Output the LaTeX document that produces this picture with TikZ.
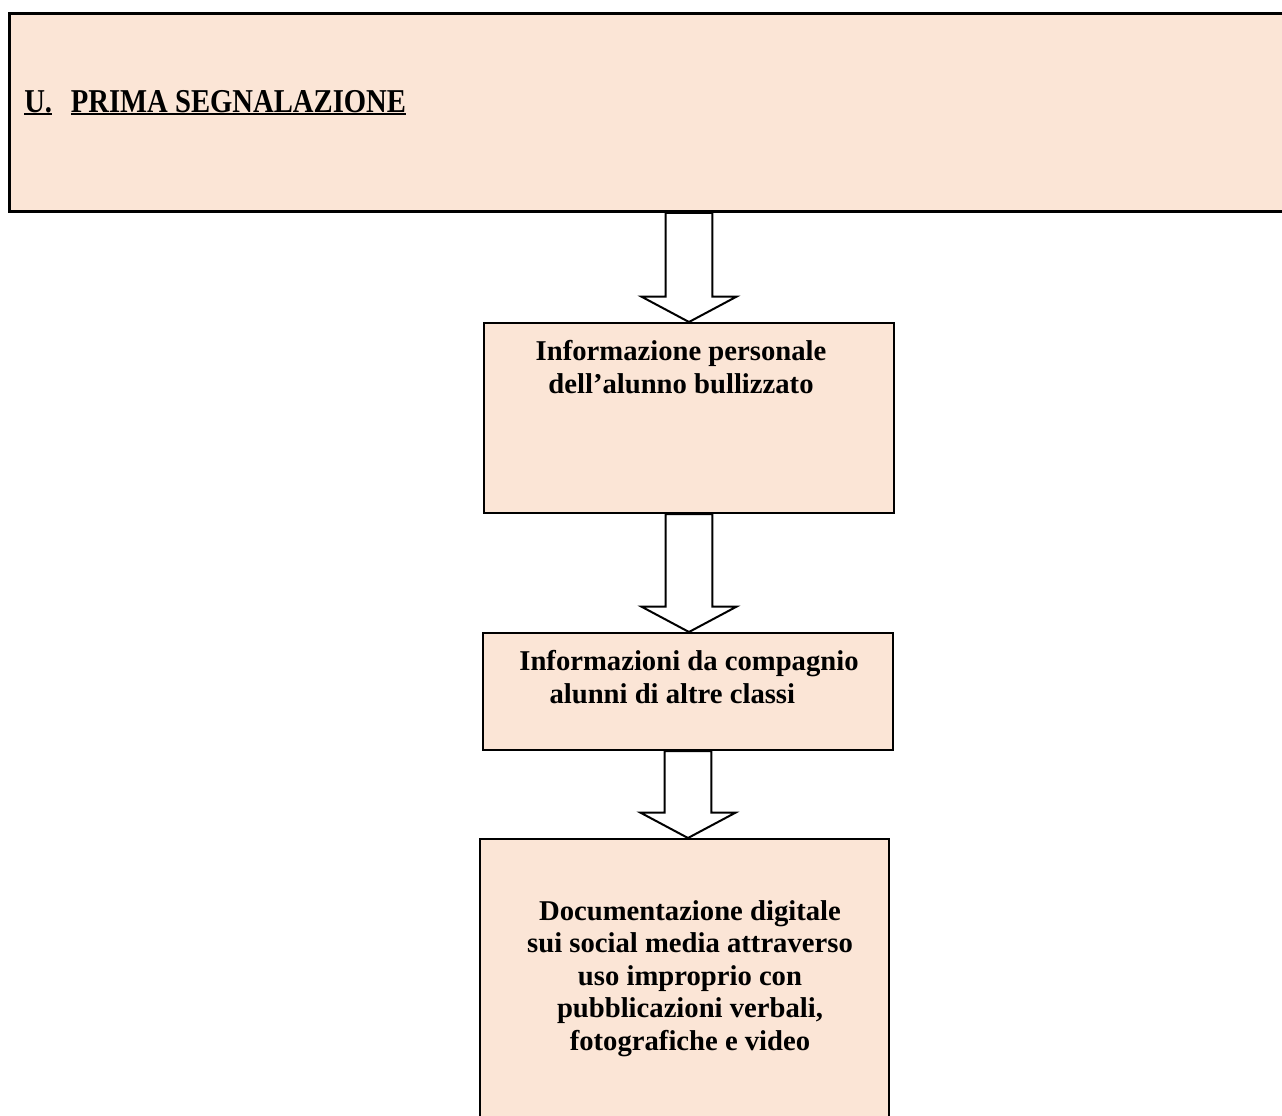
\documentclass[tikz,border=0pt]{standalone}
\usepackage{fontspec}
\setmainfont{Liberation Serif}
\newfontfamily\titlefont[FakeStretch=0.86]{Liberation Serif}
\usepackage{tikz}
\usetikzlibrary{calc,positioning}
\definecolor{boxpeach}{HTML}{FBE5D6}

\newcommand{\titleul}[1]{\setbox0\hbox{#1}\rlap{\rule[-2.6pt]{\wd0}{1.5pt}}\box0}
% block arrow from a point on the upper box to the tip on the lower box
\newcommand{\blockarrow}[2]{%
  \draw[blockarr] let \p1=(#1), \p2=(#2) in
    (\x2-17.6pt,\y1) -- (\x2+17.6pt,\y1) -- (\x2+17.6pt,\y2+19pt)
    -- (\x2+35.6pt,\y2+19pt) -- (\x2,\y2) -- (\x2-35.6pt,\y2+19pt)
    -- (\x2-17.6pt,\y2+19pt) -- cycle;}

\begin{document}
\begin{tikzpicture}[x=0.75pt,y=-0.75pt,
every node/.style={font=\fontsize{21.5}{24.3}\selectfont\bfseries},
stepbox/.style={draw=black,line width=1.5pt,fill=boxpeach,anchor=north west,inner sep=0pt,minimum width=307.5pt},
headbox/.style={stepbox,line width=2.2pt,minimum width=975pt,minimum height=148.5pt},
boxtext/.style={align=center,inner sep=0pt,anchor=base},
blockarr/.style={draw=black,line width=1.5pt,fill=white,line join=miter}
]
\useasboundingbox (0,0) rectangle (1282,1115);
\clip (0,0) rectangle (1282,1115);

\node[headbox] (head) at (8,12) {};
\node[font=\titlefont\fontsize{25}{30}\selectfont\bfseries,anchor=base west,inner sep=0pt]
  (title) at (24,112) {\titleul{U.}\hspace{14pt}\titleul{PRIMA SEGNALAZIONE}};

\node[stepbox,minimum height=142.5pt] (info) at (483,322) {};
\node[boxtext] (infotext) at (681,393) {Informazione personale\\dell’alunno bullizzato};

\node[stepbox,minimum height=87.75pt] (peers) at (482,632) {};
\node[boxtext] (peerstext) at (689,703) {Informazioni da compagnio\\alunni di altre classi\hspace*{25pt}};

\node[stepbox,minimum height=240pt,minimum width=306.75pt] (social) at (479,838) {};
\node[boxtext] (socialtext) at (690,1050) {Documentazione digitale\\sui social media attraverso\\uso improprio con\\pubblicazioni verbali,\\fotografiche e video};

\blockarrow{info.north |- head.south}{info.north}
\blockarrow{info.south}{peers.north -| info.south}
\blockarrow{peers.south}{social.north -| peers.south}
\end{tikzpicture}
\end{document}
